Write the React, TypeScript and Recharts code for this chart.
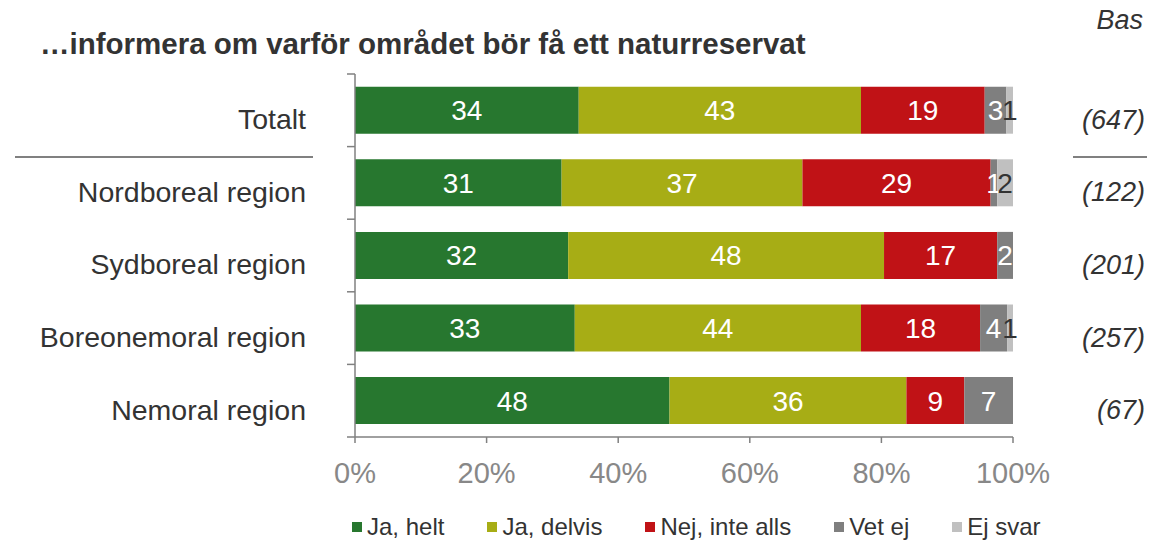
import React from 'react';
import { BarChart, Bar, XAxis, YAxis, LabelList } from 'recharts';

const categories = ['Totalt', 'Nordboreal region', 'Sydboreal region', 'Boreonemoral region', 'Nemoral region'];
const bases = ['(647)', '(122)', '(201)', '(257)', '(67)'];
const jaHelt = [34.0, 31.4, 32.4, 33.4, 47.8];
const jaDelvis = [42.9, 36.6, 48.0, 43.5, 36.0];
const nejInteAlls = [18.8, 28.6, 17.2, 18.1, 8.8];
const vetEj = [3.3, 1.0, 2.4, 4.1, 7.4];
const ejSvar = [1.0, 2.4, 0, 0.9, 0];
const xTicks = [0, 20, 40, 60, 80, 100];

const FONT = '"Liberation Sans", Arial, sans-serif';

const series = [
  { key: 'jaHelt', name: 'Ja, helt', color: '#27772f', text: '#ffffff' },
  { key: 'jaDelvis', name: 'Ja, delvis', color: '#a7ad15', text: '#ffffff' },
  { key: 'nej', name: 'Nej, inte alls', color: '#c01216', text: '#ffffff' },
  { key: 'vetEj', name: 'Vet ej', color: '#7f7f7f', text: '#ffffff' },
  { key: 'ejSvar', name: 'Ej svar', color: '#c0c0c0', text: '#333333' },
];

const data = categories.map((name, i) => ({
  name,
  base: bases[i],
  jaHelt: jaHelt[i],
  jaDelvis: jaDelvis[i],
  nej: nejInteAlls[i],
  vetEj: vetEj[i],
  ejSvar: ejSvar[i],
}));

// category label plus short tick marks at the band edges
const CategoryTick = (props: any) => {
  const { x, y, payload, index } = props;
  const half = payload?.offset ?? 0;
  const axisX = x + 49; // tickSize 6 + tickMargin 43
  return (
    <g>
      <text x={x} y={y + 9} dy="0.35em" textAnchor="end" fontSize={28.5} fill="#333" fontFamily={FONT}>
        {payload.value}
      </text>
      {half > 0 && (
        <line x1={axisX - 8} x2={axisX} y1={y - half} y2={y - half} stroke="#808080" strokeWidth={1.5} />
      )}
      {half > 0 && index === categories.length - 1 && (
        <line x1={axisX - 8} x2={axisX} y1={y + half} y2={y + half} stroke="#808080" strokeWidth={1.5} />
      )}
    </g>
  );
};

const BaseTick = (props: any) => (
  <text x={props.x + 124} y={props.y + 9} dy="0.35em" textAnchor="end" fontStyle="italic" fontSize={27} fill="#333" fontFamily={FONT}>
    {props.payload.value}
  </text>
);

export default function App() {
  return (
    <div style={{ position: 'absolute', left: 0, top: 0, width: 1158, height: 542, background: '#fff', fontFamily: FONT }}>
      <div style={{ position: 'absolute', left: 40, top: 27, fontSize: 29.5, fontWeight: 'bold', color: '#333', whiteSpace: 'nowrap', lineHeight: '34px' }}>
        …informera om varför området bör få ett naturreservat
      </div>
      <div style={{ position: 'absolute', right: 15, top: 5, fontSize: 27, fontStyle: 'italic', color: '#333' }}>Bas</div>
      <div style={{ position: 'absolute', left: 15, top: 156, width: 298, height: 2, background: '#808080' }} />
      <div style={{ position: 'absolute', left: 1073, top: 156, width: 74, height: 2, background: '#808080' }} />
      <BarChart
        width={1158}
        height={542}
        data={data}
        layout="vertical"
        barCategoryGap="17.5%"
        margin={{ top: 74, right: 0, bottom: 45, left: 0 }}
      >
        <XAxis
          type="number"
          domain={[0, 100]}
          ticks={xTicks}
          tickFormatter={(v) => `${v}%`}
          height={60}
          tickSize={6}
          tickMargin={19}
          axisLine={{ stroke: '#808080', strokeWidth: 1.5 }}
          tickLine={{ stroke: '#808080', strokeWidth: 1.5 }}
          tick={{ fill: '#888', fontSize: 29, fontFamily: FONT }}
        />
        <YAxis
          type="category"
          dataKey="name"
          width={355}
          tickLine={false}
          tickMargin={43}
          axisLine={{ stroke: '#808080', strokeWidth: 1.5 }}
          tick={<CategoryTick />}
        />
        <YAxis
          yAxisId="base"
          type="category"
          dataKey="base"
          orientation="right"
          width={145}
          axisLine={false}
          tickLine={false}
          tick={<BaseTick />}
        />
        {series.map((s) => (
          <Bar key={s.key} dataKey={s.key} name={s.name} stackId="a" fill={s.color} isAnimationActive={false}>
            <LabelList
              dataKey={s.key}
              position="center"
              fill={s.text}
              fontSize={28}
              fontFamily={FONT}
              formatter={(v: any) => (v > 0 ? Math.round(v) : '')}
            />
          </Bar>
        ))}
      </BarChart>
      <div style={{ position: 'absolute', left: 352, top: 513, display: 'flex', alignItems: 'center', fontSize: 24, color: '#333' }}>
        {series.map((s, i) => (
          <div key={s.key} style={{ display: 'flex', alignItems: 'center', marginRight: i < series.length - 1 ? 43 : 0 }}>
            <span style={{ width: 10, height: 10, background: s.color, marginRight: 5, display: 'inline-block' }} />
            <span>{s.name}</span>
          </div>
        ))}
      </div>
    </div>
  );
}
